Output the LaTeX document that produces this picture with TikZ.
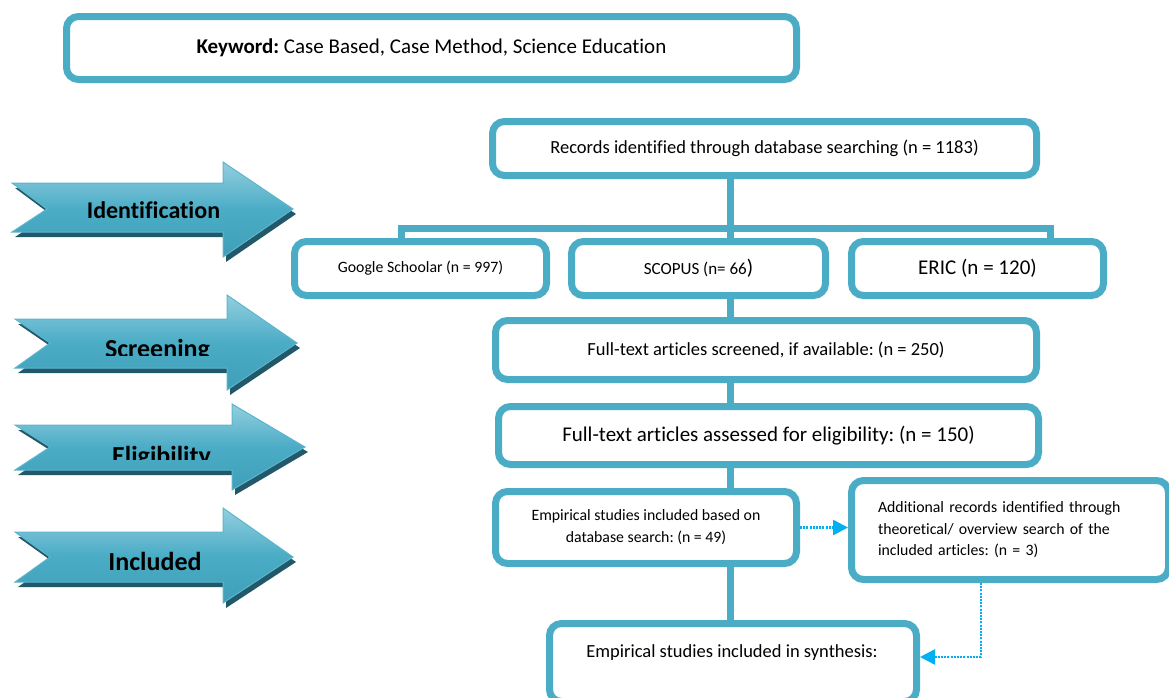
\documentclass[tikz,border=0pt]{standalone}
\usepackage{fontspec}
\setmainfont{Carlito}[Ligatures=CommonOff]
\frenchspacing
\usetikzlibrary{arrows.meta}
\definecolor{boxblue}{HTML}{4BACC6}
\definecolor{dotblue}{HTML}{00B0F0}
\definecolor{arrtop}{HTML}{93CFDF}
\definecolor{arrmid}{HTML}{4BACC6}
\definecolor{arrbot}{HTML}{3F9FB9}
\definecolor{arrshadow}{HTML}{22596A}
\definecolor{arredge}{HTML}{5DB5CC}
\newcommand\fs[2]{\fontsize{#1}{#2}\selectfont}
% T N B P bt bb ht hb ty
\newcommand\drawblockarrow[9]{%
  \fill[arrshadow] (#1+3,#5+5) -- (#3+3,#5+5) -- (#3+3,#7+5) -- (#4+3,#9+5) -- (#3+3,#8+5) -- (#3+3,#6+5) -- (#1+3,#6+5) -- (#2+3,#9+5) -- cycle;
  \shadedraw[top color=arrtop, bottom color=arrbot, middle color=arrmid, draw=arredge, line width=1pt] (#1,#5) -- (#3,#5) -- (#3,#7) -- (#4,#9) -- (#3,#8) -- (#3,#6) -- (#1,#6) -- (#2,#9) -- cycle;
}
\begin{document}
\begin{tikzpicture}[x=1pt,y=-1pt,
  box/.style={draw=boxblue, line width=7pt, rounded corners=12pt, fill=white, inner sep=0pt, align=center, text=black},
  conn/.style={draw=boxblue, line width=7pt},
  dotarrow/.style={draw=dotblue, line width=2.5pt, dash pattern=on 2pt off 1.2pt, -{Triangle[length=15pt,width=15pt]}},
  arrlabel/.style={font=\bfseries\fs{26}{30}, text=black, inner sep=0pt, anchor=base},
]
\useasboundingbox (0,0) rectangle (1169,697);

% phase arrows
\drawblockarrow{12}{47}{223}{293}{183}{232}{162}{257}{209}
\drawblockarrow{15}{50}{227}{297}{319}{368}{295}{390}{343}
\drawblockarrow{15}{50}{232}{305}{425}{470}{404}{490}{447}
\drawblockarrow{15}{50}{223}{293}{532}{582}{508}{603}{557}
\node[arrlabel, font=\bfseries\fs{24}{28}] (lident) at (153.5,218) {Identification};
\begin{scope}
  \clip (60,320) rectangle (260,355);
  \node[arrlabel] (lscreen) at (157.5,357) {Screening};
\end{scope}
\begin{scope}
  \clip (60,430) rectangle (260,459);
  \node[arrlabel] (lelig) at (161.5,464) {Eligibility};
\end{scope}
\node[arrlabel] (lincl) at (155,570) {Included};

% boxes
\node[box, minimum width=730pt, minimum height=63pt, font=\fs{21}{25}] (keyword) at (431.5,48)
  {\textbf{Keyword:} Case Based, Case Method, Science Education};
\node[box, minimum width=544pt, minimum height=54pt, font=\fs{18.5}{22}] (records) at (764.5,148.5)
  {Records identified through database searching (n = 1183)};
\node[box, minimum width=252pt, minimum height=54pt, font=\fs{15.8}{19}] (google) at (420.5,268.5)
  {Google Schoolar (n = 997)};
\node[box, minimum width=254pt, minimum height=54pt, font=\fs{17}{20}] (scopus) at (698.5,268.5)
  {SCOPUS (n= 66{\fs{21}{24})}};
\node[box, minimum width=252pt, minimum height=54pt, font=\fs{21}{25}] (eric) at (977.5,268.5)
  {ERIC (n = 120)};
\node[box, minimum width=541pt, minimum height=59pt, font=\fs{18.5}{22}] (screened) at (766,350)
  {Full-text articles screened, if available: (n = 250)};
\node[box, minimum width=540pt, minimum height=58pt, font=\fs{21}{25}] (elig) at (768.5,435.5)
  {Full-text articles assessed for eligibility: (n = 150)};
\node[box, minimum width=301pt, minimum height=72pt, font=\fs{15.8}{22}] (empirical) at (646,527.5)
  {Empirical studies included based on\\database search: (n = 49)};
\node[box, minimum width=317pt, minimum height=99pt, font=\fs{15.8}{21.5}, text width=264pt, align=left] (additional) at (1010,530)
  {Additional records identified through\\theoretical/ overview search of the\\included articles: (n = 3)};
\node[box, minimum width=367pt, minimum height=78pt] (synthesis) at (733,662.5) {};
\node[font=\fs{18.5}{22}, inner sep=0pt] (synthlabel) at (732,653) {Empirical studies included in synthesis:};

% connectors
\coordinate (spine) at (730,0);
\coordinate (barL) at (401,228);
\coordinate (barR) at (1050,228);
\draw[conn] (records.south -| spine) -- (scopus.north -| spine);
\draw[conn] (google.north -| barL) -- (barL) -- (barR) -- (eric.north -| barR);
\draw[conn] (scopus.south -| spine) -- (screened.north -| spine);
\draw[conn] (screened.south -| spine) -- (elig.north -| spine);
\draw[conn] (elig.south -| spine) -- (empirical.north -| spine);
\draw[conn] (empirical.south -| spine) -- (synthesis.north -| spine);
\coordinate (dotB) at (981,657);
\draw[dotarrow] (empirical.east) -- (additional.west |- empirical.east);
\draw[dotarrow] (additional.south -| dotB) |- (synthesis.east |- dotB);
\end{tikzpicture}
\end{document}
